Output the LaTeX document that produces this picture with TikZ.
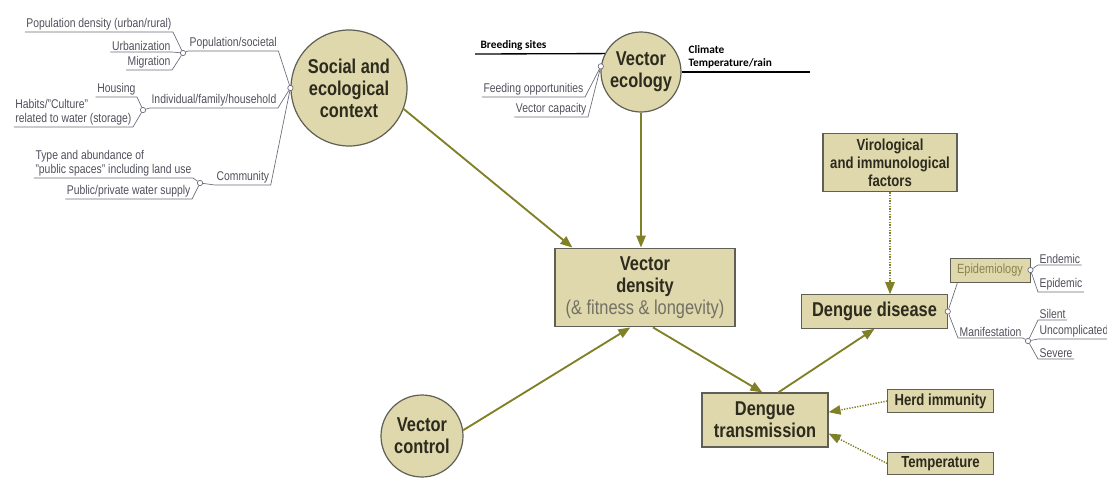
\documentclass[tikz,border=0pt]{standalone}
\usepackage{fontspec}
\setmainfont{Liberation Sans}[FakeStretch=0.82]
\newfontfamily\notefont{Carlito}
\usetikzlibrary{arrows.meta}

\definecolor{beige}{RGB}{222,216,172}
\definecolor{edgegray}{RGB}{95,95,85}
\definecolor{olive}{RGB}{128,128,38}
\definecolor{inkdark}{RGB}{45,42,30}
\definecolor{twiggray}{RGB}{105,105,120}
\definecolor{leafgray}{RGB}{80,80,92}
\definecolor{epitext}{RGB}{140,130,80}
\definecolor{softgray}{RGB}{115,112,100}

\tikzset{
  flow/.style={draw=olive, line width=1.4pt, -{Triangle[length=9pt,width=7pt]}},
  dotflow/.style={flow, line width=1.1pt, dash pattern=on 1pt off 1pt},
  bubble/.style={circle, draw=edgegray, line width=0.9pt, fill=beige, text=inkdark,
    align=center, inner sep=0pt, font=\bfseries\fontsize{15}{16.5}\selectfont},
  panel/.style={rectangle, draw=edgegray, line width=0.9pt, fill=beige, text=inkdark,
    align=center, inner sep=0pt, font=\bfseries\fontsize{15}{16.5}\selectfont},
  smallpanel/.style={panel, font=\bfseries\fontsize{12}{13.5}\selectfont},
  leaf/.style={text=leafgray, inner sep=1pt, align=left, font=\fontsize{9.5}{10.5}\selectfont},
  twig/.style={draw=twiggray, line width=0.5pt},
  knot/.style={circle, draw=twiggray, fill=white, line width=0.5pt, inner sep=0pt, minimum size=4pt},
  ecoline/.style={draw=black, line width=1pt},
  note/.style={inner sep=1pt, align=left, font=\notefont\bfseries\fontsize{8.5}{9.5}\selectfont}
}

\begin{document}
\begin{tikzpicture}[x=0.75pt,y=0.75pt,yscale=-1,xscale=1]
\useasboundingbox (0,0) rectangle (1107,483);

% Main nodes
\node[bubble, minimum size=87pt] (social) at (349,88) {Social and\\ecological\\context};
\node[bubble, minimum size=60pt] (ecology) at (641,72) {Vector\\ecology};
\node[bubble, minimum size=61.5pt] (control) at (422,436) {Vector\\control};
\node[panel, minimum width=135pt, minimum height=59pt] (density) at (645,287.5)
  {Vector\\density\\{\mdseries\color{softgray}(\& fitness \& longevity)}};
\node[panel, minimum width=94.5pt, minimum height=40.5pt] (trans) at (765,420) {Dengue\\transmission};
\node[panel, minimum width=109pt, minimum height=25pt] (disease) at (874.5,311.5) {Dengue disease};
\node[smallpanel, minimum width=100.5pt, minimum height=44pt] (viro) at (890,162.5)
  {Virological\\and immunological\\factors};
\node[smallpanel, minimum width=79pt, minimum height=17pt] (herd) at (940.5,401) {Herd immunity};
\node[smallpanel, minimum width=79pt, minimum height=17pt] (temp) at (940.5,463.5) {Temperature};

% Flow arrows
\draw[flow] (social.-21) -- ([xshift=13.5pt]density.north west);
\draw[flow] (ecology.south) -- (ecology.south |- density.north);
\draw[flow] (control.8) -- ([xshift=-11pt]density.south);
\draw[flow] ([xshift=6pt]density.south) -- ([xshift=-2pt]trans.north);
\draw[flow] ([xshift=10pt]trans.north) -- (disease.south);
\draw[dotflow] (viro.south) -- (viro.south |- disease.north);
\draw[dotflow] (herd.west) -- (trans.7);
\draw[dotflow] (temp.west) -- (trans.-12);

% Social and ecological context tree
\node[knot] (mainknot) at (social.west) {};
\node[knot] (popknot) at (183,53) {};
\node[knot] (homeknot) at (143,110) {};
\node[knot] (commknot) at (200,183) {};

\node[leaf, anchor=south east] (popdens) at (173,32) {Population density (urban/rural)};
\node[leaf, anchor=south east] (urban) at (172,52) {Urbanization};
\node[leaf, anchor=south east] (migr) at (172,70) {Migration};
\node[leaf, anchor=south west] (popsoc) at (188,51) {Population/societal};

\node[leaf, anchor=south east] (housing) at (137,97) {Housing};
\node[leaf, anchor=south east] (habits) at (133,127) {Habits/"Culture"\\related to water (storage)};
\node[leaf, anchor=south west] (family) at (150,108) {Individual/family/household};

\node[leaf, anchor=south east] (spaces) at (193,178) {Type and abundance of\\"public spaces" including land use};
\node[leaf, anchor=south east] (water) at (192,199) {Public/private water supply};
\node[leaf, anchor=south west] (comm) at (215,185) {Community};

\draw[twig] (popdens.south west) -- (popdens.south east) -- (popknot);
\draw[twig] (urban.south west) -- (urban.south east) -- (popknot);
\draw[twig] (migr.south west) -- (migr.south east) -- (popknot);
\draw[twig] (popknot) -- (popsoc.south west) -- (popsoc.south east) -- (mainknot);

\draw[twig] (housing.south west) -- (housing.south east) -- (homeknot);
\draw[twig] (habits.south west) -- (habits.south east) -- (homeknot);
\draw[twig] (homeknot) -- (family.south west) -- (family.south east) -- (mainknot);

\draw[twig] (spaces.south west) -- (spaces.south east) -- (commknot);
\draw[twig] (water.south west) -- (water.south east) -- (commknot);
\draw[twig] (commknot) -- (comm.south west) -- (comm.south east) -- (mainknot);

% Vector ecology tree
\node[knot] (ecoknot) at (ecology.172) {};
\node[leaf, anchor=south east] (feeding) at (585,97) {Feeding opportunities};
\node[leaf, anchor=south east] (capacity) at (588,117) {Vector capacity};
\draw[twig] (feeding.south west) -- (feeding.south east) -- (ecoknot);
\draw[twig] (capacity.south west) -- (capacity.south east) -- (ecoknot);

\coordinate (breedend) at (475,54);
\coordinate (climend) at (810,72);
\node[note, anchor=south west] (breed) at (479,52) {Breeding sites};
\node[note, anchor=south west] (climate) at (687,70) {Climate\\Temperature/rain};
\draw[ecoline] (breedend) -- (ecology.153);
\draw[ecoline] (ecology.east) -- (climend);

% Dengue disease tree
\node[panel, font=\fontsize{10}{11}\selectfont, text=epitext, line width=0.7pt,
  minimum width=60pt, minimum height=18pt] (epi) at (990,270) {Epidemiology};
\node[knot] (disknot) at (disease.east) {};
\node[knot] (epiknot) at (epi.east) {};
\node[knot] (maniknot) at (1028,341) {};

\node[leaf, anchor=south west] (mani) at (958,338) {Manifestation};
\node[leaf, anchor=south west] (endemic) at (1038,265) {Endemic};
\node[leaf, anchor=south west] (epidemic) at (1038,292) {Epidemic};
\node[leaf, anchor=south west] (silent) at (1038,320) {Silent};
\node[leaf, anchor=south west] (uncompl) at (1038,339) {Uncomplicated};
\node[leaf, anchor=south west] (severe) at (1038,359) {Severe};

\draw[twig] (disknot) -- ([xshift=6pt]epi.south west);
\draw[twig] (disknot) -- (mani.south west) -- (mani.south east) -- (maniknot);
\draw[twig] (epiknot) -- (endemic.south west) -- (endemic.south east);
\draw[twig] (epiknot) -- (epidemic.south west) -- (epidemic.south east);
\draw[twig] (maniknot) -- (silent.south west) -- (silent.south east);
\draw[twig] (maniknot) -- (uncompl.south west) -- (uncompl.south east);
\draw[twig] (maniknot) -- (severe.south west) -- (severe.south east);

\end{tikzpicture}
\end{document}
